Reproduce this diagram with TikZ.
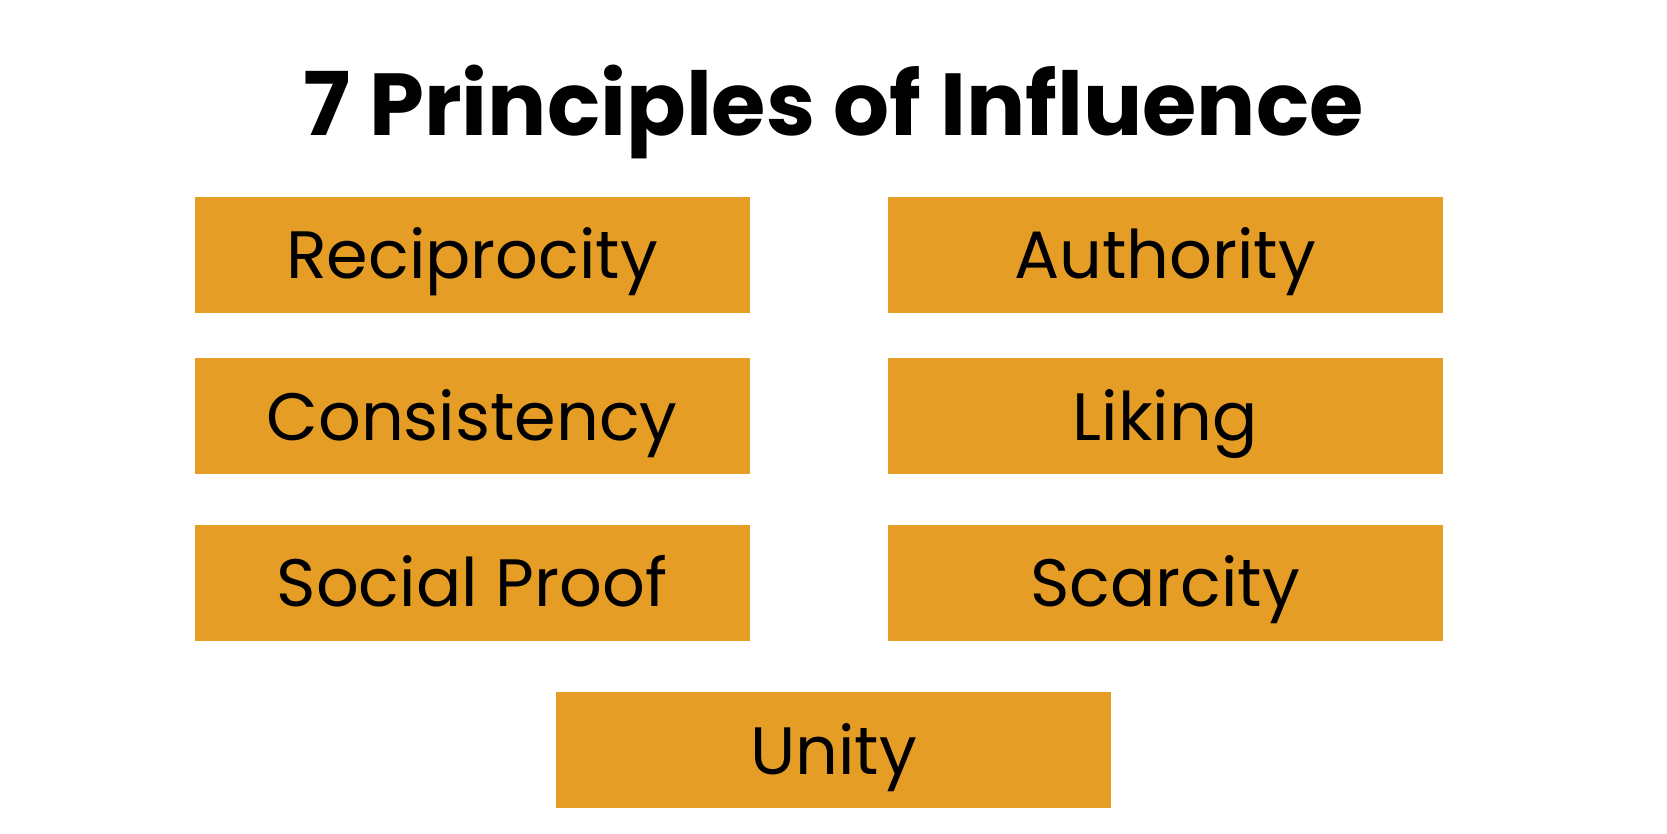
\documentclass[tikz,border=0pt]{standalone}
\usepackage{fontspec}
\setmainfont{Poppins}
\usepackage{xcolor}
\usepackage{tikz}

\definecolor{boxorange}{HTML}{E59D26}

\begin{document}
\begin{tikzpicture}[x=0.5pt, y=-0.5pt,
    principle/.style={fill=boxorange, minimum width=277.5pt, minimum height=58pt,
        inner sep=0pt, font=\fontsize{33.5}{33.5}\selectfont, text height=24pt, text depth=0pt}]
    \useasboundingbox[fill=white] (0, 0) rectangle (1667, 834);

    \node[anchor=base, font=\fontsize{44}{44}\selectfont\bfseries] at (833.5, 136) (title) {7 Principles of Influence};

    \node[principle] at (472, 254.6) (recip) {Reciprocity};
    \node[principle] at (1165, 254.6) (auth) {Authority};
    \node[principle] at (472, 416.3) (consist) {Consistency};
    \node[principle] at (1165, 416.3) (liking) {Liking};
    \node[principle] at (472, 582.6) (social) {Social Proof};
    \node[principle] at (1165, 582.6) (scarce) {Scarcity};
    \node[principle] at (833.5, 750) (unity) {Unity};
\end{tikzpicture}
\end{document}
